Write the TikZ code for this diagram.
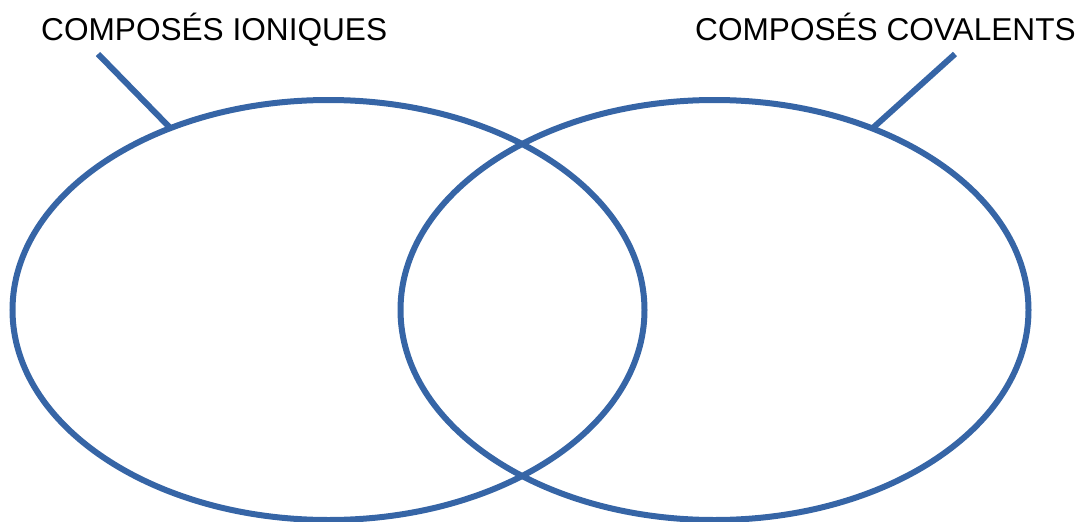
\documentclass[tikz,border=0pt]{standalone}
\usepackage{fontspec}
\setmainfont{Liberation Sans}
\usetikzlibrary{shapes.geometric}
\definecolor{vblue}{RGB}{54,101,166}
\begin{document}
\begin{tikzpicture}[x=1pt,y=-1pt,
  venn/.style={draw=vblue,line width=6pt,ellipse,minimum width=632pt,minimum height=420pt,inner sep=0pt,outer sep=0pt},
  lead/.style={draw=vblue,line width=6pt},
  lbl/.style={font=\fontsize{31.6}{38}\selectfont,inner sep=0pt,anchor=base west}]
\useasboundingbox (0,0) rectangle (1082,522);
\node[venn] (L) at (328.5,310) {};
\node[venn,minimum width=628pt] (R) at (714.5,310) {};
\node[lbl] (tL) at (41,40) {COMPOSÉS IONIQUES};
\node[lbl] (tR) at (695,40) {COMPOSÉS COVALENTS};
\coordinate (aL) at (98,54);
\coordinate (aR) at (955,54);
\draw[lead] (aL) -- (L.131.3);
\draw[lead] (aR) -- (R.49);
\end{tikzpicture}
\end{document}
